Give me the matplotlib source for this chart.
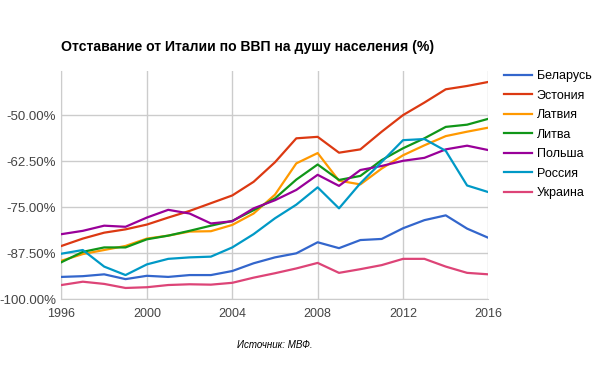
import matplotlib.pyplot as plt
from matplotlib.ticker import FuncFormatter

plt.rcParams['font.family'] = ['Liberation Sans', 'DejaVu Sans']

years = list(range(1996, 2017))

# лаг от Италии, %
belarus = [-93.9, -93.7, -93.2, -94.5, -93.6, -93.9, -93.4, -93.4, -92.3, -90.2, -88.6,
           -87.5, -84.5, -86.1, -83.9, -83.6, -80.7, -78.5, -77.2, -80.8, -83.3]
estonia = [-85.5, -83.5, -81.9, -81.0, -79.7, -77.8, -76.0, -73.9, -71.8, -68.1, -62.8,
           -56.3, -55.9, -60.2, -59.3, -54.5, -50.0, -46.6, -43.0, -42.1, -41.0]
latvia = [-89.5, -87.7, -86.6, -85.5, -83.5, -82.7, -81.6, -81.5, -79.8, -76.7, -71.6,
          -63.1, -60.3, -67.8, -68.8, -64.5, -60.9, -58.2, -55.7, -54.5, -53.4]
lithuania = [-89.9, -87.1, -85.9, -85.9, -83.7, -82.7, -81.4, -80.0, -78.7, -75.8, -72.6,
             -67.5, -63.4, -67.6, -66.5, -62.2, -59.0, -56.3, -53.2, -52.6, -51.0]
poland = [-82.3, -81.4, -80.0, -80.3, -77.8, -75.7, -76.7, -79.4, -78.8, -75.3, -73.1,
          -70.3, -66.2, -69.2, -64.9, -63.8, -62.4, -61.6, -59.3, -58.3, -59.5]
russia = [-87.6, -86.6, -91.1, -93.4, -90.5, -89.0, -88.6, -88.4, -85.9, -82.3, -78.0,
          -74.3, -69.6, -75.3, -68.5, -62.7, -56.8, -56.5, -59.7, -69.1, -70.9]
ukraine = [-96.1, -95.2, -95.8, -96.9, -96.7, -96.1, -95.9, -96.0, -95.5, -94.1, -92.9,
           -91.6, -90.1, -92.8, -91.8, -90.7, -89.0, -89.0, -91.1, -92.8, -93.2]

names = ['Беларусь', 'Эстония', 'Латвия', 'Литва', 'Польша', 'Россия', 'Украина']
series = [belarus, estonia, latvia, lithuania, poland, russia, ukraine]
colors = ['#3366cc', '#dc3912', '#ff9900', '#109618', '#990099', '#0099c6', '#dd4477']

fig = plt.figure(figsize=(5.98, 3.71), dpi=100)
ax = fig.add_axes([0.1028, 0.193, 0.714, 0.616])

for name, vals, c in zip(names, series, colors):
    ax.plot(years, vals, color=c, lw=1.6, label=name, zorder=3)

ax.set_xlim(1996, 2016)
ax.set_ylim(-100, -38)
ax.set_xticks([1996, 2000, 2004, 2008, 2012, 2016])
ax.set_yticks([-100, -87.5, -75, -62.5, -50])
ax.yaxis.set_major_formatter(FuncFormatter(lambda v, p: f'{v:.2f}%'))
ax.grid(True, color='#cccccc', lw=1)
ax.set_axisbelow(True)
for s in ['top', 'right']:
    ax.spines[s].set_visible(False)
for s in ['left', 'bottom']:
    ax.spines[s].set_color('#cccccc')
ax.tick_params(axis='x', length=0, labelsize=9, colors='#444444', pad=6)
ax.tick_params(axis='y', length=0, labelsize=9.5, colors='#444444', pad=4)

fig.text(0.1028, 0.873, 'Отставание от Италии по ВВП на душу населения (%)',
         fontsize=10.1, fontweight='bold', ha='left', va='center')
fig.text(0.46, 0.07, 'Источник: МВФ.', fontsize=7, style='italic', ha='center', va='center')

ax.legend(loc='upper left', bbox_to_anchor=(1.025, 1.025), frameon=False, fontsize=9,
          handlelength=2.2, labelspacing=0.6, handletextpad=0.4, borderaxespad=0)

fig.savefig('out.png', dpi=100)
